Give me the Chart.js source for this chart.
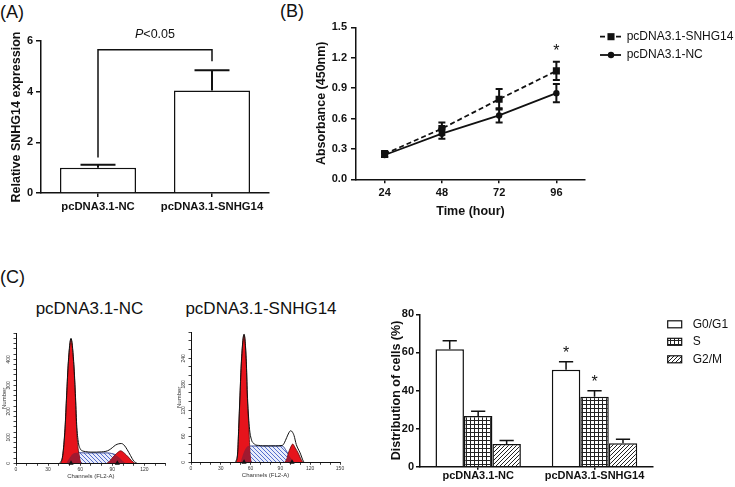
<!DOCTYPE html>
<html><head><meta charset="utf-8">
<script src="https://cdn.jsdelivr.net/npm/chart.js@4.4.1/dist/chart.umd.min.js"></script>
<style>
html,body{margin:0;padding:0;background:#fff;overflow:hidden;}
body{width:735px;height:487px;position:relative;font-family:"Liberation Sans",Arial,sans-serif;color:#111;}
canvas{position:absolute;}
.lbl{position:absolute;line-height:1;white-space:nowrap;color:#111;}
</style></head><body>
<div class="lbl" style="left:0;top:3px;font-size:18px">(A)</div>
<div class="lbl" style="left:280px;top:2px;font-size:18px">(B)</div>
<div class="lbl" style="left:0;top:268px;font-size:18px">(C)</div>
<div class="lbl" style="left:0;width:179px;text-align:center;top:300px;font-size:17px">pcDNA3.1-NC</div>
<div class="lbl" style="left:176px;width:170px;text-align:center;top:300px;font-size:17px">pcDNA3.1-SNHG14</div>
<canvas id="cA" width="280" height="225" style="left:0;top:0;width:280px;height:225px"></canvas>
<canvas id="cB" width="445" height="230" style="left:290px;top:0;width:445px;height:230px"></canvas>
<canvas id="cH1" width="175" height="162" style="left:0;top:325px;width:175px;height:162px"></canvas>
<canvas id="cH2" width="175" height="162" style="left:175px;top:325px;width:175px;height:162px"></canvas>
<canvas id="cC" width="365" height="207" style="left:370px;top:280px;width:365px;height:207px"></canvas>
<script>
// ---------------- DATA ----------------
// Panel A
const catA = ['pcDNA3.1-NC', 'pcDNA3.1-SNHG14'];
const valA = [1.0, 4.05];
const errA = [0.12, 0.80];
const bracketA = [1.4, 5.65, 5.2];   // left foot, top, right foot (y values)
const pTextA = 'P<0.05';
const pTextValA = 6.13;

// Panel B
const timeB = ['24', '48', '72', '96'];
const snhgB = [0.25, 0.50, 0.79, 1.07];
const snhgErrB = [0.03, 0.06, 0.10, 0.09];
const snhgStarB = [false, false, false, true];
const ncB = [0.24, 0.45, 0.63, 0.85];
const ncErrB = [0.02, 0.05, 0.07, 0.09];

// Panel C – flow histograms (channel, count)
const ncTotal = [[41,0],[43.6,30],[45.8,135],[47.3,262],[48.9,390],[51.4,481],[53.9,392],[55.5,268],[56.7,150],[58.3,80],[60,56],[62,48],[65,45],[70,43],[75,43],[80,44],[84,46],[87,51],[90,60],[93,70],[96,75],[98.5,76],[101,70],[104,52],[107,30],[110,9],[113,0]];
const ncG1 = [[42,0],[43.6,26],[45.8,128],[47.3,256],[48.9,383],[51.4,477],[53.9,383],[55.5,256],[56.7,128],[58.3,50],[60,10],[61,0]];
const ncS = [[47,0],[50,20],[53,36],[57,41],[65,40],[75,40],[85,40],[89,38],[93,33],[97,20],[101,5],[103,0]];
const ncDarkG1 = [[47,0],[50,20],[53,36],[57,41],[58.5,41],[59.3,30],[60,10],[61,0]];
const ncG2 = [[85,0],[88,10],[90.7,24],[94,38],[97.8,48],[101,40],[105,24],[108,10],[111,0]];
const ncDarkG2 = [[85,0],[88,10],[90.7,24],[92.5,31],[94,30],[97,20],[99,12],[101,5],[103,0]];
const ncMeans = [51.4, 94.7];

const snTotal = [[45,0],[47,24],[48,78],[49.3,155],[50.7,232],[53.4,296],[55.7,232],[56.7,160],[58.7,82],[61,51],[63,44],[65,40],[68,39],[72,38],[78,38],[85,38],[92,39],[94,45],[96.3,57],[98.5,68],[100.4,73],[102,70],[103.7,62],[106,41],[109.8,22],[113,3],[114,0]];
const snG1 = [[45.5,0],[47,21],[48,74],[49.3,151],[50.7,228],[53.4,294],[55.7,228],[56.7,151],[58.4,74],[59.4,21],[60.5,0]];
const snS = [[50,0],[53,22],[56,35],[58,37.6],[70,37.6],[80,37.6],[92,37.6],[95,30],[98,18],[101,8],[104,0]];
const snDarkG1 = [[50,0],[53,22],[56,35],[58,37.6],[58.9,37.6],[59.4,21],[60.5,0]];
const snG2 = [[94.5,0],[96.5,8],[98,21],[100,33],[102.4,42],[105,33],[108,21],[110.5,8],[112.5,0]];
const snDarkG2 = [[94.5,0],[96.5,8],[98,18],[99,14.7],[101,8],[104,0]];
const snMeans = [53.4, 101.7];

// Panel C – bar chart
const groupsC = ['pcDNA3.1-NC', 'pcDNA3.1-SNHG14'];
const phasesC = ['G0/G1', 'S', 'G2/M'];
const g1C = [61.7, 50.9];
const g1ErrC = [4.4, 4.2];
const g1StarC = [false, true];
const sC = [26.6, 36.7];
const sErrC = [2.5, 3.2];
const sStarC = [false, true];
const g2C = [11.9, 12.3];
const g2ErrC = [1.9, 2.1];

// ---------------- STYLE ----------------
const FONT = '"Liberation Sans", Arial, Helvetica, sans-serif';
const INK = '#111';
Chart.defaults.font.family = FONT;
Chart.defaults.color = INK;
Chart.defaults.animation = false;
Chart.defaults.responsive = false;
Chart.defaults.devicePixelRatio = 1;
Chart.defaults.plugins.legend.display = false;
Chart.defaults.plugins.tooltip.enabled = false;

const fixW = w => s => { s.width = w; };
const fixH = h => s => { s.height = h; };
const pts = arr => arr.map(([x, y]) => ({x, y}));

function makeHatch(size, bg, fg, lw, dir) {
  const c = document.createElement('canvas'); c.width = size; c.height = size;
  const g = c.getContext('2d');
  g.fillStyle = bg; g.fillRect(0, 0, size, size);
  g.strokeStyle = fg; g.lineWidth = lw; g.beginPath();
  for (let k = -1; k <= 1; k++) {
    if (dir > 0) { g.moveTo(k * size, size); g.lineTo(k * size + size, 0); }
    else { g.moveTo(k * size, 0); g.lineTo(k * size + size, size); }
  }
  g.stroke();
  return g.createPattern(c, 'repeat');
}
function makeGrid(size, bg, fg, lw) {
  const c = document.createElement('canvas'); c.width = size; c.height = size;
  const g = c.getContext('2d');
  g.fillStyle = bg; g.fillRect(0, 0, size, size);
  g.fillStyle = fg; g.fillRect(0, 0, size, lw); g.fillRect(0, 0, lw, size);
  return g.createPattern(c, 'repeat');
}
const blueHatch = makeHatch(4, '#e8ecfb', '#4461c8', 0.9, -1);
const gridPat = makeGrid(4, '#ffffff', '#222', 1);
const diagPat = makeHatch(4, '#ffffff', '#222', 1, 1);

const errorBars = {
  id: 'errorBars',
  afterDatasetsDraw(chart) {
    const ctx = chart.ctx, ys = chart.scales.y;
    chart.data.datasets.forEach((ds, i) => {
      if (!ds.errors) return;
      const meta = chart.getDatasetMeta(i);
      meta.data.forEach((el, j) => {
        const v = ds.data[j], e = ds.errors[j];
        const half = ds.capRatio ? el.width * ds.capRatio : ds.capHalf;
        const yTop = ys.getPixelForValue(v + e);
        const yBot = ds.errorBoth ? ys.getPixelForValue(v - e) : ys.getPixelForValue(v);
        ctx.save();
        ctx.strokeStyle = INK; ctx.lineWidth = ds.errorLineWidth || 1.5;
        ctx.beginPath();
        ctx.moveTo(el.x, yBot); ctx.lineTo(el.x, yTop);
        ctx.moveTo(el.x - half, yTop); ctx.lineTo(el.x + half, yTop);
        if (ds.errorBoth) { ctx.moveTo(el.x - half, yBot); ctx.lineTo(el.x + half, yBot); }
        ctx.stroke();
        if (ds.stars && ds.stars[j]) {
          ctx.fillStyle = INK; ctx.font = '16px ' + FONT;
          ctx.textAlign = 'center'; ctx.textBaseline = 'alphabetic';
          ctx.fillText('*', el.x, yTop - (ds.starGap || 4));
        }
        ctx.restore();
      });
    });
  }
};

const bracketPlugin = {
  id: 'bracketA',
  afterDatasetsDraw(chart) {
    const {ctx, scales: {x, y}} = chart;
    const x0 = x.getPixelForValue(0), x1 = x.getPixelForValue(1);
    ctx.save();
    ctx.strokeStyle = INK; ctx.lineWidth = 1.5;
    ctx.beginPath();
    ctx.moveTo(x0, y.getPixelForValue(bracketA[0]));
    ctx.lineTo(x0, y.getPixelForValue(bracketA[1]));
    ctx.lineTo(x1, y.getPixelForValue(bracketA[1]));
    ctx.lineTo(x1, y.getPixelForValue(bracketA[2]));
    ctx.stroke();
    const fI = 'italic 12.5px ' + FONT, fR = '12.5px ' + FONT;
    ctx.font = fI; const wP = ctx.measureText(pTextA[0]).width;
    ctx.font = fR; const wR = ctx.measureText(pTextA.slice(1)).width;
    const sx = (x0 + x1) / 2 - (wP + wR) / 2, ty = y.getPixelForValue(pTextValA);
    ctx.fillStyle = INK; ctx.textAlign = 'left'; ctx.textBaseline = 'alphabetic';
    ctx.font = fI; ctx.fillText(pTextA[0], sx, ty);
    ctx.font = fR; ctx.fillText(pTextA.slice(1), sx + wP, ty);
    ctx.restore();
  }
};

const legendB = {
  id: 'legendB',
  afterDraw(chart) {
    const ctx = chart.ctx, a = chart.chartArea;
    chart.data.datasets.forEach((ds, i) => {
      const y = a.top + 9.4 + i * 18.3;
      const x0 = a.right + 15, x1 = a.right + 36, xm = a.right + 26;
      ctx.save();
      ctx.strokeStyle = ds.borderColor; ctx.lineWidth = ds.borderWidth;
      ctx.setLineDash(ds.borderDash || []);
      ctx.beginPath(); ctx.moveTo(x0, y); ctx.lineTo(x1, y); ctx.stroke();
      ctx.setLineDash([]);
      ctx.fillStyle = ds.backgroundColor;
      if (ds.pointStyle === 'rect') {
        const s = ds.pointRadius * Math.SQRT2;
        ctx.fillRect(xm - s / 2, y - s / 2, s, s);
      } else {
        ctx.beginPath(); ctx.arc(xm, y, ds.pointRadius, 0, 2 * Math.PI); ctx.fill();
      }
      ctx.fillStyle = INK; ctx.font = '12px ' + FONT;
      ctx.textBaseline = 'middle'; ctx.textAlign = 'left';
      ctx.fillText(ds.label, a.right + 41.7, y);
      ctx.restore();
    });
  }
};

const legendC = {
  id: 'legendC',
  afterDraw(chart) {
    const ctx = chart.ctx, a = chart.chartArea;
    chart.data.datasets.forEach((ds, i) => {
      const y = a.top + 10 + i * 17.5;
      const bx = a.right + 15;
      ctx.save();
      ctx.fillStyle = ds.backgroundColor;
      ctx.fillRect(bx, y - 3.5, 14, 7);
      ctx.strokeStyle = INK; ctx.lineWidth = 1.2;
      ctx.strokeRect(bx, y - 3.5, 14, 7);
      ctx.fillStyle = INK; ctx.font = '12px ' + FONT;
      ctx.textBaseline = 'middle'; ctx.textAlign = 'left';
      ctx.fillText(ds.label, a.right + 40, y);
      ctx.restore();
    });
  }
};

const axisLine = {color: INK, width: 1.5};
const tickGrid = (len) => ({drawOnChartArea: false, offset: false, tickLength: len, color: INK, lineWidth: 1.5});
const boldTick = (size, pad) => ({font: {size, weight: 'bold'}, padding: pad, color: INK, maxRotation: 0, autoSkip: false});

// ---------------- PANEL A ----------------
new Chart(document.getElementById('cA'), {
  type: 'bar',
  data: {labels: catA, datasets: [{
    label: 'SNHG14', data: valA, errors: errA, capRatio: 0.23, errorLineWidth: 2,
    backgroundColor: '#fff', borderColor: INK, borderWidth: 1.5,
    barPercentage: 0.667, categoryPercentage: 1
  }]},
  options: {
    layout: {padding: {left: 0, top: 41, right: 11, bottom: 0}},
    scales: {
      x: {offset: true, grid: tickGrid(4), border: axisLine, ticks: boldTick(11.3, 3), afterFit: fixH(32)},
      y: {min: 0, max: 6, ticks: Object.assign(boldTick(11, 3), {stepSize: 2}), grid: tickGrid(5), border: axisLine,
          title: {display: true, text: 'Relative SNHG14 expression', font: {size: 12.5, weight: 'bold'}, padding: {top: 9.5, bottom: 0}, color: INK},
          afterFit: fixW(41)}
    }
  },
  plugins: [errorBars, bracketPlugin]
});

// ---------------- PANEL B ----------------
new Chart(document.getElementById('cB'), {
  type: 'line',
  data: {labels: timeB, datasets: [
    {label: 'pcDNA3.1-SNHG14', data: snhgB, errors: snhgErrB, errorBoth: true, capHalf: 3.5, errorLineWidth: 2,
     stars: snhgStarB, starGap: 6,
     borderColor: INK, backgroundColor: INK, borderWidth: 1.8, borderDash: [5, 3],
     pointStyle: 'rect', pointRadius: 5, pointBorderWidth: 0, tension: 0, fill: false},
    {label: 'pcDNA3.1-NC', data: ncB, errors: ncErrB, errorBoth: true, capHalf: 3.5, errorLineWidth: 2,
     borderColor: INK, backgroundColor: INK, borderWidth: 1.8,
     pointStyle: 'circle', pointRadius: 3.2, pointBorderWidth: 0, tension: 0, fill: false}
  ]},
  options: {
    layout: {padding: {left: 0, top: 27.3, right: 150, bottom: 5.7}},
    scales: {
      x: {offset: true, grid: tickGrid(4), border: axisLine, ticks: boldTick(11, 3),
          title: {display: true, text: 'Time (hour)', font: {size: 12.5, weight: 'bold'}, padding: {top: 0, bottom: 4.8}, color: INK},
          afterFit: fixH(45)},
      y: {min: 0, max: 1.5, ticks: Object.assign(boldTick(11, 4), {stepSize: 0.3, callback: v => Number(v).toFixed(1)}),
          grid: tickGrid(5), border: axisLine,
          title: {display: true, text: 'Absorbance (450nm)', font: {size: 12.5, weight: 'bold'}, padding: {top: 24.2, bottom: 0}, color: INK},
          afterFit: fixW(66)}
    }
  },
  plugins: [errorBars, legendB]
});

// ---------------- PANEL C: histograms ----------------
function histChart(id, d) {
  const line = (arr, extra) => Object.assign({data: pts(arr), showLine: true, pointRadius: 0, borderWidth: 0,
    cubicInterpolationMode: 'monotone', fill: false}, extra);
  return new Chart(document.getElementById(id), {
    type: 'scatter',
    data: {datasets: [
      line(d.total, {label: 'Data', borderColor: INK, borderWidth: 1, order: 1}),
      {label: 'Means', data: pts(d.means.map(m => [m, 0])), showLine: false, pointStyle: 'triangle', pointRadius: 3,
       backgroundColor: INK, borderColor: INK, borderWidth: 0, clip: false, order: 0},
      line(d.darkG1, {label: 'G1∩S', fill: 'origin', backgroundColor: '#a01a30', order: 3}),
      line(d.darkG2, {label: 'G2∩S', fill: 'origin', backgroundColor: '#a01a30', order: 3}),
      line(d.g1, {label: 'G1', fill: 'origin', backgroundColor: '#e6141c', borderColor: '#5a0a0a', borderWidth: 0.8, order: 4}),
      line(d.g2, {label: 'G2', fill: 'origin', backgroundColor: '#e6141c', borderColor: '#5a0a0a', borderWidth: 0.8, order: 4}),
      line(d.s, {label: 'S', fill: 'origin', backgroundColor: blueHatch, borderColor: '#3f4f98', borderWidth: 1, order: 5})
    ]},
    options: {
      layout: {padding: d.pad},
      scales: {
        x: {type: 'linear', min: 0, max: d.xMax,
            ticks: {stepSize: 10, autoSkip: false, maxRotation: 0, font: {size: 5}, padding: 1, color: '#333',
                    callback: v => (v % 30 === 0 ? String(v) : '')},
            grid: {drawOnChartArea: false, tickLength: 2.5, color: INK, lineWidth: 0.8},
            border: {color: INK, width: 1},
            title: {display: true, text: 'Channels (FL2-A)', font: {size: 6}, padding: {top: 0, bottom: 1}, color: '#333'},
            afterFit: fixH(18)},
        y: {min: 0, max: d.yMax,
            ticks: {stepSize: 20, autoSkip: false, minRotation: 90, maxRotation: 90, crossAlign: 'center', font: {size: 5}, padding: 1, color: '#333',
                    callback: v => (v % d.yLab === 0 && v < d.yMax ? String(v) : '')},
            grid: {drawOnChartArea: false, tickLength: 2.5, color: INK, lineWidth: 0.8},
            border: {color: INK, width: 1},
            title: {display: true, text: 'Number', font: {size: 6}, padding: {top: 0.4, bottom: 0}, color: '#333'},
            afterFit: fixW(16)}
      }
    }
  });
}
histChart('cH1', {total: ncTotal, g1: ncG1, s: ncS, darkG1: ncDarkG1, g2: ncG2, darkG2: ncDarkG2, means: ncMeans,
  xMax: 140, yMax: 500, yLab: 100, pad: {left: 0, top: 8.3, right: 9.2, bottom: 5.7}});
histChart('cH2', {total: snTotal, g1: snG1, s: snS, darkG1: snDarkG1, g2: snG2, darkG2: snDarkG2, means: snMeans,
  xMax: 150, yMax: 300, yLab: 60, pad: {left: 0, top: 7.3, right: 10, bottom: 6.7}});

// ---------------- PANEL C: bar chart ----------------
new Chart(document.getElementById('cC'), {
  type: 'bar',
  data: {labels: groupsC, datasets: [
    {label: phasesC[0], data: g1C, errors: g1ErrC, stars: g1StarC, starGap: 4, capRatio: 0.25,
     backgroundColor: '#fff', borderColor: INK, borderWidth: 1.5},
    {label: phasesC[1], data: sC, errors: sErrC, stars: sStarC, starGap: 4, capRatio: 0.25,
     backgroundColor: gridPat, borderColor: INK, borderWidth: 1.5},
    {label: phasesC[2], data: g2C, errors: g2ErrC, capRatio: 0.25,
     backgroundColor: diagPat, borderColor: INK, borderWidth: 1.5}
  ]},
  options: {
    datasets: {bar: {categoryPercentage: 0.734, barPercentage: 1}},
    layout: {padding: {left: 0, top: 34.3, right: 82.3, bottom: 0.3}},
    scales: {
      x: {offset: true, grid: tickGrid(3), border: axisLine, ticks: boldTick(11, 0), afterFit: fixH(20)},
      y: {min: 0, max: 80, ticks: Object.assign(boldTick(11, 2), {stepSize: 20}), grid: tickGrid(4), border: axisLine,
          title: {display: true, text: 'Distribution of cells (%)', font: {size: 12.5, weight: 'bold'}, padding: {top: 19.2, bottom: 0}, color: INK},
          afterFit: fixW(50)}
    }
  },
  plugins: [errorBars, legendC]
});
</script>
</body></html>
